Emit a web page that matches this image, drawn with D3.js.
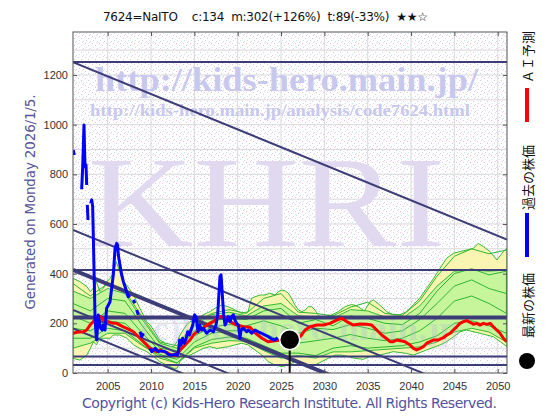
<!DOCTYPE html>
<html>
<head>
<meta charset="utf-8">
<script src="https://cdn.jsdelivr.net/npm/d3@7"></script>
<style>
  body { margin: 0; background: #fff; }
  svg { display: block; }
</style>
</head>
<body>
<div id="chart"></div>
<script>
// ---- data ----
const titleText = "7624=NaITO    c:134  m:302(+126%)  t:89(-33%)  ★★☆";
const generatedText = "Generated on Monday 2026/1/5.";
const copyrightText = "Copyright (c) Kids-Hero Research Institute. All Rights Reserved.";
const legendLabels = ["ＡＩ予測", "過去の株価", "最新の株価"];

const yTicks = [0, 200, 400, 600, 800, 1000, 1200];
const xTicks = [2005, 2010, 2015, 2020, 2025, 2030, 2035, 2040, 2045, 2050];

// latest price point
const latest = [2026.0, 134];

// horizontal support / resistance levels
const levels = [1252, 415, 223, 66, 32];
const levelWidths = [2, 2, 4, 2, 2];
// downward channel lines: value at 2001, slope per year
const channelStarts = [1252, 576, 415, 254, 179];
const channelWidths = [2, 2, 4, 2, 2];
const channelSlope = -14.28;

// past price (blue), null = gap
const pastPrice = [
  [2001.03, 898], [2001.15, 878], null,
  [2002.0, 740], [2002.12, 831], [2002.27, 999], [2002.38, 831], [2002.5, 838], [2002.58, 757], null,
  [2002.65, 677], [2002.73, 616], null,
  [2003.04, 683], [2003.16, 697], [2003.27, 670], [2003.42, 428], [2003.54, 227], [2003.65, 160],
  [2003.73, 133], [2003.92, 234], [2004.04, 207], [2004.19, 180], [2004.38, 173], [2004.5, 193],
  [2004.69, 173], [2004.88, 261], [2005.08, 274], [2005.27, 287], [2005.46, 341], [2005.65, 395],
  [2005.85, 502], [2006.04, 522], [2006.15, 515], [2006.23, 475], [2006.42, 435], [2006.62, 395],
  [2006.81, 368], [2007.0, 348], [2007.19, 328], [2007.38, 307], [2007.58, 314], null,
  [2007.96, 294], [2008.15, 281], null,
  [2008.35, 254], [2008.54, 234], null,
  [2008.73, 166], [2008.92, 146], [2009.12, 160], null,
  [2009.88, 99], [2010.08, 86], [2010.46, 99], [2010.85, 86], [2011.23, 89], [2011.62, 86],
  [2012.0, 75], [2012.38, 72], [2012.77, 75], [2013.04, 72], [2013.19, 93], [2013.31, 133],
  [2013.46, 113], [2013.65, 140], [2013.85, 120], [2014.04, 137], [2014.23, 166], [2014.42, 153],
  [2014.62, 173], [2014.81, 193], [2015.04, 234], [2015.23, 220], [2015.42, 166], [2015.62, 193],
  [2015.85, 173], [2016.04, 180], [2016.42, 160], [2016.81, 173], [2017.19, 166], [2017.5, 193],
  [2017.69, 234], [2017.85, 328], [2017.96, 388], [2018.08, 395], [2018.23, 314], [2018.38, 234],
  [2018.54, 193], [2018.73, 207], [2018.92, 227], [2019.12, 207], [2019.31, 227], [2019.5, 234],
  [2019.69, 213], [2019.88, 200], [2020.08, 193], [2020.27, 140], [2020.38, 173], [2020.65, 180],
  [2021.04, 166], [2021.23, 173], [2021.62, 160], [2022.0, 173], [2022.38, 166], [2022.77, 160],
  [2023.15, 153], [2023.54, 146], [2023.92, 137], [2024.31, 133], [2024.62, 142]
];

// AI prediction (red)
const aiForecast = [
  [2001.0, 160], [2001.42, 164], [2002.19, 166], [2002.58, 173], [2002.96, 193], [2003.35, 207],
  [2003.73, 220], [2004.12, 227], [2004.5, 213], [2004.88, 207], [2005.27, 204], [2005.65, 200],
  [2006.04, 200], [2006.42, 193], [2006.81, 186], [2007.19, 180], [2007.58, 173], [2007.96, 166],
  [2008.35, 153], [2008.73, 140], [2009.12, 126], [2009.5, 113], [2009.88, 99], [2010.27, 93],
  [2010.65, 86], [2011.04, 93], [2011.42, 86], [2011.81, 83], [2012.19, 75], [2012.58, 72],
  [2012.96, 72], [2013.35, 93], [2013.73, 106], [2014.12, 120], [2014.5, 133], [2014.88, 153],
  [2015.27, 166], [2015.65, 173], [2016.04, 180], [2016.42, 193], [2016.81, 200], [2017.19, 207],
  [2017.58, 220], [2017.96, 227], [2018.35, 227], [2019.12, 207], [2019.88, 193], [2020.65, 186],
  [2021.42, 184], [2022.0, 162], [2022.8, 140], [2023.5, 126], [2024.3, 130], [2025.08, 133],
  [2026.0, 133], [2027.2, 146], [2027.77, 173], [2028.35, 186], [2029.12, 193], [2029.88, 193],
  [2030.65, 200], [2031.42, 213], [2032.0, 220], [2032.58, 207], [2033.35, 193], [2034.12, 197],
  [2034.88, 196], [2035.46, 193], [2036.04, 173], [2036.62, 153], [2037.19, 138], [2037.58, 126],
  [2037.96, 126], [2038.35, 133], [2038.92, 129], [2039.31, 126], [2039.88, 113], [2040.27, 99],
  [2040.65, 93], [2041.04, 99], [2041.42, 106], [2041.81, 120], [2042.19, 126], [2042.58, 133],
  [2043.15, 133], [2043.73, 142], [2044.12, 153], [2044.5, 160], [2044.88, 173], [2045.27, 186],
  [2045.65, 200], [2046.04, 207], [2046.42, 211], [2046.81, 204], [2047.19, 196], [2047.58, 200],
  [2047.96, 193], [2048.35, 200], [2048.73, 196], [2049.12, 200], [2049.5, 186], [2049.88, 173],
  [2050.27, 160], [2050.65, 140], [2051.04, 126]
];

// outer envelope of the simulation fan (yellow)
const outerHigh = [
  [2001.0, 381], [2001.8, 368], [2002.6, 348], [2003.0, 328], [2003.35, 341], [2003.7, 368],
  [2004.1, 328], [2004.5, 341], [2004.9, 368], [2005.3, 381], [2005.65, 408], [2006.0, 448],
  [2006.4, 408], [2006.8, 368], [2007.2, 354], [2007.6, 334], [2008.0, 314], [2008.35, 287],
  [2008.7, 261], [2009.1, 234], [2009.5, 207], [2009.9, 193], [2010.3, 173], [2010.65, 153],
  [2011.0, 133], [2011.4, 126], [2011.8, 113], [2012.2, 99], [2012.6, 106], [2013.0, 126],
  [2013.35, 153], [2013.7, 173], [2014.1, 193], [2014.5, 207], [2015.3, 207], [2016.0, 234],
  [2016.8, 247], [2017.4, 261], [2018.15, 274], [2018.9, 267], [2019.7, 254], [2020.45, 240],
  [2021.2, 247], [2021.6, 301], [2022.0, 307], [2022.6, 314], [2023.15, 314], [2023.7, 321],
  [2024.3, 314], [2024.7, 328], [2025.1, 334], [2025.5, 330], [2025.85, 321], [2026.2, 301],
  [2026.6, 274], [2027.0, 254], [2027.4, 247], [2027.8, 254], [2028.15, 267], [2028.55, 267],
  [2028.9, 254], [2029.3, 234], [2029.7, 220], [2030.1, 227], [2030.85, 234], [2031.6, 247],
  [2032.4, 267], [2033.15, 276], [2033.9, 267], [2034.6, 250], [2035.3, 287], [2035.65, 294],
  [2036.4, 274], [2037.2, 247], [2037.95, 234], [2038.7, 234], [2039.5, 247], [2040.25, 274],
  [2041.0, 301], [2041.8, 341], [2042.6, 381], [2043.35, 422], [2044.1, 462], [2044.9, 482],
  [2045.65, 489], [2046.4, 495], [2047.2, 502], [2047.75, 522], [2048.35, 509], [2049.1, 489],
  [2049.9, 455], [2050.65, 489], [2051.07, 502]
];
const outerLow = [
  [2001.0, 59], [2001.8, 52], [2002.6, 72], [2003.0, 99], [2003.35, 126], [2003.7, 113],
  [2004.1, 140], [2005.3, 140], [2005.65, 153], [2006.4, 153], [2007.2, 140], [2008.0, 113],
  [2008.7, 99], [2009.5, 86], [2010.3, 66], [2011.0, 46], [2011.8, 32], [2012.6, 19],
  [2013.0, 19], [2013.35, 46], [2013.7, 59], [2014.5, 72], [2015.3, 86], [2016.0, 99],
  [2016.8, 106], [2017.6, 99], [2018.9, 106], [2020.45, 120], [2021.2, 113], [2022.8, 72],
  [2023.5, 46], [2024.3, 32], [2025.1, 26], [2025.85, 32], [2026.6, 46], [2027.4, 39],
  [2028.15, 32], [2028.9, 32], [2029.7, 46], [2030.45, 59], [2031.2, 72], [2032.0, 72],
  [2032.8, 66], [2033.5, 59], [2034.5, 55], [2035.2, 66], [2036.4, 72], [2037.95, 86],
  [2039.5, 79], [2040.25, 72], [2041.8, 93], [2043.35, 113], [2044.1, 126], [2044.9, 146],
  [2045.65, 166], [2046.4, 173], [2047.95, 160], [2049.5, 146], [2050.3, 126], [2051.07, 106]
];

// inner band (green) and simulation paths, on a two-year grid
const fanYears = [2001, 2003, 2005, 2007, 2009, 2011, 2013, 2015, 2017, 2019, 2021, 2023, 2025,
                  2027, 2029, 2031, 2033, 2035, 2037, 2039, 2041, 2043, 2045, 2047, 2049, 2051];
const innerHigh = [330, 300, 340, 320, 215, 120, 100, 190, 235, 245, 230, 270, 280,
                   230, 225, 220, 255, 250, 225, 220, 270, 350, 410, 415, 410, 415];
const innerLow = [100, 120, 160, 160, 110, 70, 40, 100, 120, 130, 128, 90, 60,
                  70, 60, 85, 85, 90, 95, 100, 105, 125, 165, 180, 165, 125];
const simPaths = [
  [360, 310, 360, 330, 225, 125, 110, 200, 240, 255, 240, 300, 320, 245, 240, 230, 265, 285, 240, 232, 290, 390, 470, 500, 480, 495],
  [280, 250, 300, 290, 190, 100, 90, 170, 210, 220, 215, 250, 260, 200, 215, 190, 230, 220, 200, 195, 240, 330, 400, 420, 395, 410],
  [230, 200, 250, 240, 160, 90, 70, 150, 185, 195, 190, 210, 190, 160, 180, 175, 195, 180, 160, 170, 215, 280, 350, 375, 340, 320],
  [180, 170, 210, 200, 135, 75, 55, 125, 160, 170, 170, 160, 130, 120, 130, 140, 155, 140, 130, 140, 170, 220, 290, 310, 280, 240],
  [140, 140, 180, 170, 115, 60, 40, 105, 135, 145, 140, 110, 80, 80, 70, 100, 110, 100, 105, 110, 125, 150, 200, 210, 190, 160]
];

// ---- layout ----
const width = 560, height = 420;
const plot = { left: 73, right: 507, top: 32, bottom: 373 };
const navy = "#3c3c78";

const x = d3.scaleLinear().domain([2001, 2051.07]).range([plot.left, plot.right]);
const y = d3.scaleLinear().domain([0, 1373]).range([plot.bottom, plot.top]);

const svg = d3.select("#chart").append("svg")
  .attr("width", width)
  .attr("height", height)
  .style("font-family", "'DejaVu Sans', sans-serif");

const defs = svg.append("defs");
defs.append("clipPath").attr("id", "plotClip")
  .append("rect")
  .attr("x", plot.left).attr("y", plot.top)
  .attr("width", plot.right - plot.left).attr("height", plot.bottom - plot.top);

// faint speckled background like the original gif
const pat = defs.append("pattern").attr("id", "speckle")
  .attr("width", 7).attr("height", 7).attr("patternUnits", "userSpaceOnUse");
pat.append("rect").attr("width", 7).attr("height", 7).attr("fill", "#fff");
[[1, 1, "#f0bcf0"], [4, 3, "#cfcfcf"], [2, 5, "#bce8f0"], [6, 6, "#eec8ee"], [5, 0, "#dcdcdc"]]
  .forEach(([px, py, c]) => pat.append("rect").attr("x", px).attr("y", py)
    .attr("width", 1).attr("height", 1).attr("fill", c));

svg.append("rect")
  .attr("x", plot.left).attr("y", plot.top)
  .attr("width", plot.right - plot.left).attr("height", plot.bottom - plot.top)
  .attr("fill", "url(#speckle)");

const g = svg.append("g").attr("clip-path", "url(#plotClip)");

// grid
g.append("g").selectAll("line")
  .data(xTicks)
  .enter().append("line")
  .attr("x1", d => x(d)).attr("x2", d => x(d))
  .attr("y1", plot.top).attr("y2", plot.bottom)
  .attr("stroke", "#dadada").attr("stroke-width", 1);
g.append("g").selectAll("line")
  .data(d3.range(100, 1400, 100))
  .enter().append("line")
  .attr("x1", plot.left).attr("x2", plot.right)
  .attr("y1", d => y(d)).attr("y2", d => y(d))
  .attr("stroke", "#dadada").attr("stroke-width", 1);

// watermarks
const serif = "'Liberation Serif', 'DejaVu Serif', serif";
g.append("text")
  .attr("x", 88).attr("y", 246)
  .attr("textLength", 357).attr("lengthAdjust", "spacingAndGlyphs")
  .style("font-family", serif).style("font-size", "130px")
  .attr("fill", "#e1d9ef")
  .text("KHRI");
g.append("text")
  .attr("x", 95).attr("y", 91)
  .attr("textLength", 383).attr("lengthAdjust", "spacingAndGlyphs")
  .style("font-family", serif).style("font-size", "34px").style("font-weight", "bold")
  .attr("fill", "#c8c8ee")
  .text("http://kids-hero.main.jp/");
g.append("text")
  .attr("x", 90).attr("y", 116)
  .attr("textLength", 380).attr("lengthAdjust", "spacingAndGlyphs")
  .style("font-family", serif).style("font-size", "17px").style("font-weight", "bold")
  .attr("fill", "#c8c8ee")
  .text("http://kids-hero.main.jp/analysis/code7624.html");

// simulation fan
const line = d3.line().x(d => x(d[0])).y(d => y(d[1]));
const bandPath = (hi, lo) => line(hi.concat(lo.slice().reverse())) + "Z";

g.append("path")
  .attr("d", bandPath(outerHigh, outerLow))
  .attr("fill", "#f9f5a8").attr("fill-opacity", 0.9)
  .attr("stroke", "#33bb33").attr("stroke-width", 1);

const innerHi = fanYears.map((yr, i) => [yr, innerHigh[i]]);
const innerLo = fanYears.map((yr, i) => [yr, innerLow[i]]);
g.append("path")
  .attr("d", bandPath(innerHi, innerLo))
  .attr("fill", "#c0f59a").attr("fill-opacity", 0.9)
  .attr("stroke", "#33bb33").attr("stroke-width", 1);

g.append("g").selectAll("path")
  .data(simPaths)
  .enter().append("path")
  .attr("d", vals => line(vals.map((v, i) => [fanYears[i], v])))
  .attr("fill", "none")
  .attr("stroke", "#2fb52f").attr("stroke-width", 1);

// faint lower watermark sits over the fan
g.append("text")
  .attr("x", 140).attr("y", 340)
  .attr("textLength", 320).attr("lengthAdjust", "spacingAndGlyphs")
  .style("font-family", serif).style("font-size", "34px").style("font-weight", "bold")
  .attr("fill", "#b4b4e0").attr("fill-opacity", 0.3)
  .text("(c)kids-hero.main.jp");

// horizontal levels
g.append("g").selectAll("line")
  .data(levels)
  .enter().append("line")
  .attr("x1", plot.left).attr("x2", plot.right)
  .attr("y1", d => y(d)).attr("y2", d => y(d))
  .attr("stroke", navy)
  .attr("stroke-width", (d, i) => levelWidths[i]);

// channel lines
const xEnd = x.domain()[1];
g.append("g").selectAll("line")
  .data(channelStarts)
  .enter().append("line")
  .attr("x1", x(2001)).attr("y1", d => y(d))
  .attr("x2", x(xEnd)).attr("y2", d => y(d + channelSlope * (xEnd - 2001)))
  .attr("stroke", navy)
  .attr("stroke-width", (d, i) => channelWidths[i]);

// AI forecast
g.append("path")
  .attr("d", line(aiForecast))
  .attr("fill", "none").attr("stroke", "#ff0000").attr("stroke-width", 3)
  .attr("stroke-linejoin", "round");

// past price
g.append("path")
  .attr("d", d3.line().defined(d => d).x(d => x(d[0])).y(d => y(d[1]))(pastPrice))
  .attr("fill", "none").attr("stroke", "#0000ff").attr("stroke-width", 3)
  .attr("stroke-linejoin", "round");

// latest price
g.append("line")
  .attr("x1", x(latest[0])).attr("x2", x(latest[0]))
  .attr("y1", y(latest[1])).attr("y2", y(0))
  .attr("stroke", "#111").attr("stroke-width", 2);
g.append("circle")
  .attr("cx", x(latest[0])).attr("cy", y(latest[1])).attr("r", 10)
  .attr("fill", "#000").attr("stroke", "#fff").attr("stroke-width", 1.5);

// frame and axes
svg.append("rect")
  .attr("x", plot.left).attr("y", plot.top)
  .attr("width", plot.right - plot.left).attr("height", plot.bottom - plot.top)
  .attr("fill", "none").attr("stroke", "#555").attr("stroke-width", 1);

const tickFont = "'Liberation Sans', Arial, sans-serif";
const styleAxis = sel => {
  sel.select(".domain").remove();
  sel.selectAll(".tick line").attr("stroke", "#555");
  sel.selectAll("text").style("font-family", tickFont).style("font-size", "11px").attr("fill", "#333");
};
svg.append("g").attr("transform", `translate(${plot.left},0)`)
  .call(d3.axisLeft(y).tickValues(yTicks).tickSize(-4).tickPadding(5).tickFormat(d3.format("d"))).call(styleAxis);
svg.append("g").attr("transform", `translate(${plot.right},0)`)
  .call(d3.axisRight(y).tickValues(yTicks).tickSize(-4).tickFormat("")).call(styleAxis);
svg.append("g").attr("transform", `translate(0,${plot.bottom})`)
  .call(d3.axisBottom(x).tickValues(xTicks).tickSize(-4).tickPadding(9).tickFormat(d3.format("d"))).call(styleAxis);
svg.append("g").attr("transform", `translate(0,${plot.top})`)
  .call(d3.axisTop(x).tickValues(xTicks).tickSize(-4).tickFormat("")).call(styleAxis);

// title
svg.append("text")
  .attr("x", 103).attr("y", 21)
  .attr("textLength", 325)
  .style("white-space", "pre").style("font-size", "12px")
  .attr("fill", "#111")
  .text(titleText);

// left generated label
svg.append("text")
  .attr("transform", "translate(30,202) rotate(-90)")
  .attr("text-anchor", "middle").attr("dominant-baseline", "central")
  .attr("textLength", 215)
  .style("font-size", "13.5px")
  .attr("fill", "#545496")
  .text(generatedText);

// copyright
svg.append("text")
  .attr("x", 82).attr("y", 408)
  .attr("textLength", 415)
  .style("font-size", "14px")
  .attr("fill", "#5252a0")
  .text(copyrightText);

// legend, rotated to read bottom-up along the right edge
const legendX = 527;
const legendItems = [
  { label: legendLabels[0], textStart: 83, mark: "bar", color: "#ff0000", y0: 88, y1: 122 },
  { label: legendLabels[1], textStart: 210, mark: "bar", color: "#0000ff", y0: 213, y1: 257 },
  { label: legendLabels[2], textStart: 338, mark: "dot", color: "#000", cy: 361 }
];
const legend = svg.append("g");
legendItems.forEach(item => {
  legend.append("text")
    .attr("transform", `translate(${legendX},${item.textStart}) rotate(-90)`)
    .attr("dominant-baseline", "central")
    .style("font-family", "'Noto Sans CJK JP', sans-serif")
    .style("font-size", "13px")
    .attr("fill", "#111")
    .text(item.label);
  if (item.mark === "bar") {
    legend.append("rect")
      .attr("x", legendX - 2).attr("y", item.y0)
      .attr("width", 4).attr("height", item.y1 - item.y0)
      .attr("fill", item.color);
  } else {
    legend.append("circle")
      .attr("cx", legendX).attr("cy", item.cy).attr("r", 8)
      .attr("fill", item.color);
  }
});
</script>
</body>
</html>
